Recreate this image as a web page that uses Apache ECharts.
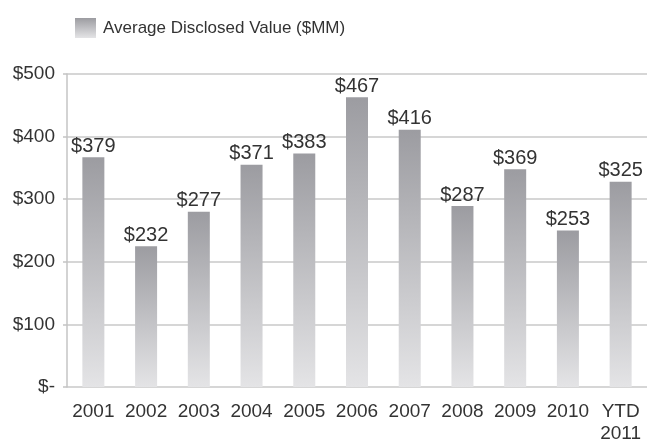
<!DOCTYPE html>
<html>
<head>
<meta charset="utf-8">
<script src="https://cdn.jsdelivr.net/npm/echarts@6/dist/echarts.min.js"></script>
<style>
  html, body { margin: 0; padding: 0; background: #fff; }
  #chart { width: 647px; height: 445px; }
</style>
</head>
<body>
<div id="chart"></div>
<script>
// categories along the x axis
const years = ['2001', '2002', '2003', '2004', '2005', '2006', '2007', '2008', '2009', '2010', 'YTD\n2011']
// bar heights as drawn in the picture ($MM)
const barHeights = [367, 225, 280, 355, 373, 463, 411, 289, 348, 250, 328]
// value labels printed above each bar
const valueLabels = ['$379', '$232', '$277', '$371', '$383', '$467', '$416', '$287', '$369', '$253', '$325']
// y axis ticks
const yTicks = [0, 100, 200, 300, 400, 500]

const FONT = "'Liberation Sans Narrow', 'Arial Narrow', 'Liberation Sans', sans-serif"
const TEXT = '#333333'

const barFill = new echarts.graphic.LinearGradient(0, 0, 0, 1, [
    { offset: 0, color: '#9c9ca1' },
    { offset: 1, color: '#e4e4e6' }
])

const chart = echarts.init(document.getElementById('chart'))

chart.setOption({
    animation: false,
    grid: {
        left: 67,
        right: 0,
        top: 74,
        bottom: 51,
        containLabel: false
    },
    legend: {
        left: 70,
        top: 13,
        itemWidth: 21,
        itemHeight: 20,
        icon: 'rect',
        textStyle: {
            fontFamily: FONT,
            fontSize: 17,
            color: TEXT,
            padding: [0, 0, 0, 2]
        },
        data: ['Average Disclosed Value ($MM)']
    },
    xAxis: {
        type: 'category',
        data: years,
        axisLine: { show: false },
        axisTick: { show: false },
        axisLabel: {
            margin: 14,
            fontFamily: FONT,
            fontSize: 19,
            lineHeight: 22,
            color: TEXT,
            interval: 0
        }
    },
    yAxis: {
        type: 'value',
        min: yTicks[0],
        max: yTicks[yTicks.length - 1],
        interval: 100,
        axisLine: { show: true, lineStyle: { color: '#c4c4c4', width: 1.5 } },
        axisTick: { show: true, length: 4, lineStyle: { color: '#c4c4c4', width: 1.5 } },
        splitLine: { lineStyle: { color: '#c8c8c8', width: 1.5 } },
        axisLabel: {
            margin: 12,
            fontFamily: FONT,
            fontSize: 19,
            color: TEXT,
            formatter: v => v === 0 ? '$-' : '$' + v
        }
    },
    series: [
        {
            name: 'Average Disclosed Value ($MM)',
            type: 'bar',
            data: barHeights,
            barWidth: 22,
            itemStyle: { color: barFill },
            label: {
                show: true,
                position: 'top',
                distance: 1,
                fontFamily: FONT,
                fontSize: 20,
                color: TEXT,
                formatter: p => valueLabels[p.dataIndex]
            }
        }
    ]
})
</script>
</body>
</html>
